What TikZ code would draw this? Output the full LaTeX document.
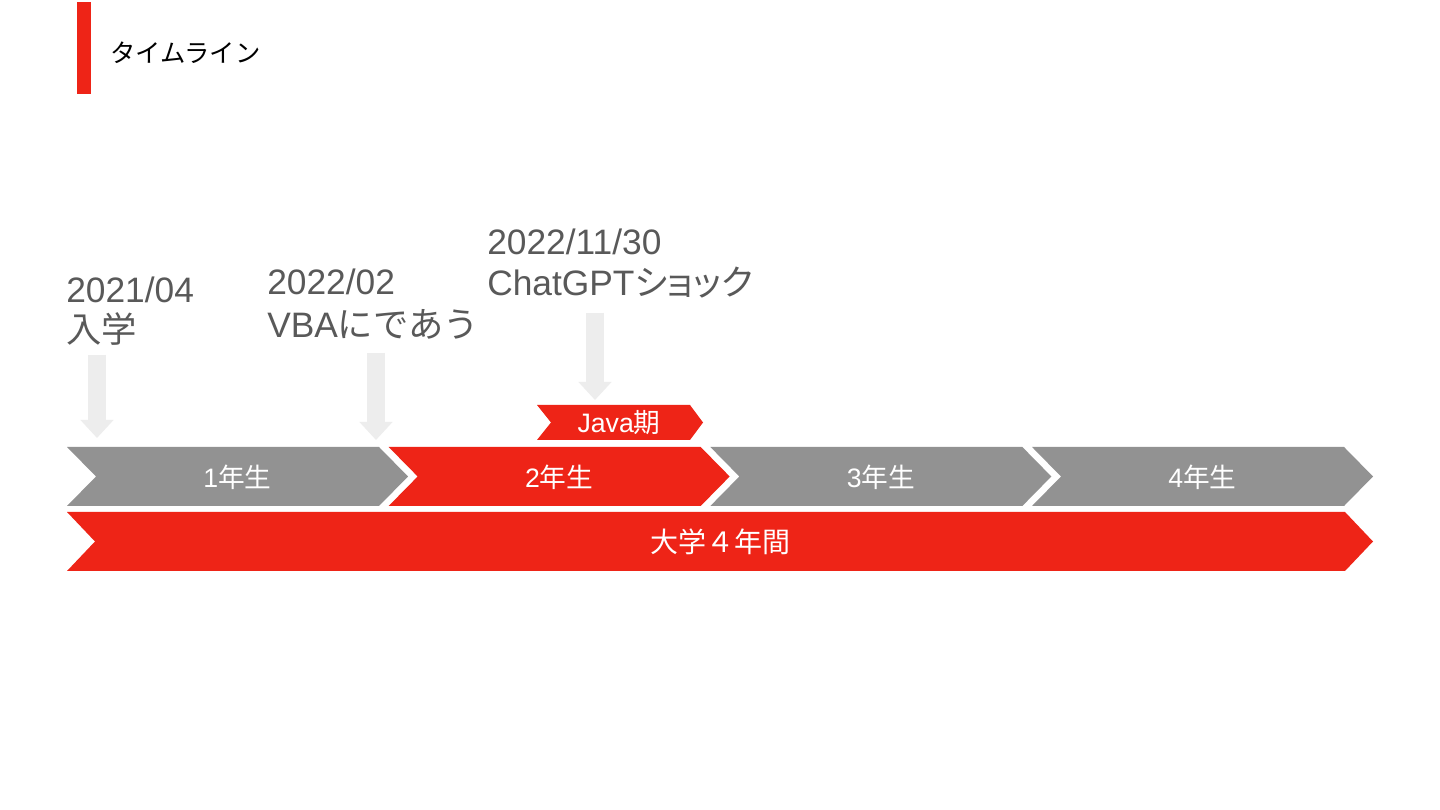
\documentclass[tikz,border=0pt]{standalone}
\usepackage{fontspec}
\setmainfont{Liberation Sans}
\newfontfamily\jp{Noto Sans CJK JP}
\newfontfamily\jpp[RawFeature=+palt]{Noto Sans CJK JP}
\usepackage{tikz}
\usetikzlibrary{
  arrows.meta,
  positioning
}
\definecolor{tlred}{HTML}{EE2417}
\definecolor{tlgray}{HTML}{929292}
\definecolor{arrowgray}{HTML}{EDEDED}
\definecolor{textgray}{HTML}{595959}
\tikzset{>=Triangle}
\tikzset{
  yearlbl/.style={text=white, font=\fontsize{20}{24}\selectfont, inner sep=0pt},
  datelbl/.style={anchor=base west, text=textgray, font=\fontsize{26.5}{30}\selectfont, inner sep=0pt},
  pointer/.style={draw=arrowgray, line width=13.5pt, -{Triangle[width=24pt,length=13.5pt]}}
}

\begin{document}
\begin{tikzpicture}[x=0.75pt, y=0.75pt]
  \useasboundingbox[fill=white] (0,0) rectangle (1440,810);
  % title
  \fill[tlred] (77,808) rectangle (91,716);
  \node[anchor=west, inner sep=0pt, font=\fontsize{19}{22}\selectfont\jp] (title) at (110,757) {タイムライン};
  % years
  \foreach \i/\n/\col in {0/1/tlgray, 1/2/tlred, 2/3/tlgray, 3/4/tlgray} {
    \pgfmathsetmacro\xa{67+321.67*\i}
    \fill[\col] (\xa,363) -- ++(312,0) -- ++(29,-29.5) -- ++(-29,-29.5)
      -- ++(-312,0) -- ++(29,29.5) -- cycle;
    \node[yearlbl] (yr\n) at (\xa+170.5,332.5) {\n{\jp 年生}};
  }
  % four years
  \fill[tlred] (67,298) -- (1345,298) -- (1373,268.5) -- (1345,239)
    -- (67,239) -- (95,268.5) -- cycle;
  \node[yearlbl, font=\fontsize{21}{24}\selectfont\jp] (univ) at (720,268.5) {大学４年間};
  % java
  \fill[tlred] (537,405) -- (690,405) -- (703,387.5) -- (690,370)
    -- (537,370) -- (551,387.5) -- cycle;
  \node[yearlbl] (java) at (619,387.5) {Java{\jp 期}};
  % events
  \node[datelbl] (d1) at (66,507) {2021/04};
  \node[datelbl] (e1) at (66,467) {\jp 入学};
  \node[datelbl] (d2) at (267,515) {2022/02};
  \node[datelbl] (e2) at (267,472) {VBA{\jp にであう}};
  \node[datelbl] (d3) at (487,555) {2022/11/30};
  \node[datelbl] (e3) at (487,514) {ChatGPT{\jpp ショック}};
  % pointers
  \coordinate (p1) at (97,455);
  \coordinate (q1) at (97,372);
  \coordinate (p2) at (376,457);
  \coordinate (q2) at (376,370);
  \coordinate (p3) at (595,497);
  \coordinate (q3) at (595,410);
  \foreach \k in {1,2,3}
    \draw[pointer] (p\k) -- (q\k);
\end{tikzpicture}
\end{document}
